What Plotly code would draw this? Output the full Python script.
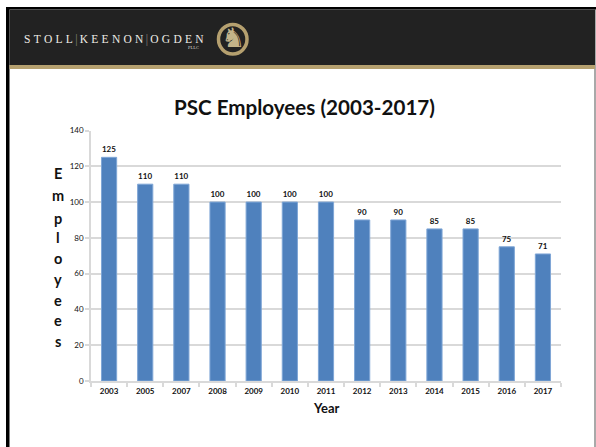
import plotly.graph_objects as go

W, H = 596, 447

years = ["2003", "2005", "2007", "2008", "2009", "2010", "2011",
         "2012", "2013", "2014", "2015", "2016", "2017"]
employees = [125, 110, 110, 100, 100, 100, 100, 90, 90, 85, 85, 75, 71]
y_ticks = [0, 20, 40, 60, 80, 100, 120, 140]

TITLE = "PSC Employees (2003-2017)"
X_TITLE = "Year"
Y_TITLE_LETTERS = list("Employees")

GRID = "#d9d9d9"
BAR = "#4f81bd"
BAR_EDGE = "#7fa6d6"
HEADER = "#222222"
GOLD = "#b5a06f"
TEXT = "#111111"
FONT = "Lato"


def px(x):
    return x / W


def py(y):
    return 1 - y / H


def rect(x0, y0, x1, y1, color, layer="below"):
    return dict(type="rect", xref="paper", yref="paper", x0=px(x0), x1=px(x1),
                y0=py(y1), y1=py(y0), fillcolor=color, line_width=0, layer=layer)


def label(x, y, text, size, color=TEXT, family=FONT, rot=0):
    return dict(xref="paper", yref="paper", x=px(x), y=py(y), text=text,
                showarrow=False, xanchor="center", yanchor="middle", textangle=rot,
                font=dict(family=family, size=size, color=color))


fig = go.Figure(go.Bar(
    x=years, y=employees, width=0.42,
    marker=dict(color=BAR, line=dict(color=BAR_EDGE, width=1)),
    text=[str(v) for v in employees], textposition="outside", cliponaxis=False,
    textfont=dict(family=FONT, size=8, color=TEXT),
    texttemplate="<b>%{text}</b>", hoverinfo="skip",
))

shapes = [
    rect(6, 7, 596, 9.5, "#000000"),       # slide frame, top
    rect(6, 7, 9.5, 447, "#000000"),       # slide frame, left
    rect(594.5, 9, 595.5, 447, "#555555"), # slide frame, right
    rect(9.5, 9.5, 595, 65, HEADER),       # header band
    rect(9.5, 65, 595, 69, GOLD),          # gold rule
    dict(type="circle", xref="paper", yref="paper",
         x0=px(218.5), x1=px(247), y0=py(54), y1=py(24.5),
         fillcolor=HEADER, line=dict(color=GOLD, width=3.5)),
]

sep = "<span style='color:#8a8678'>|</span>"
spaced = lambda word: "\u200a\u2009".join(word)
annotations = [
    label(114, 39.5, f"{spaced('STOLL')}\u2009{sep}\u2009{spaced('KEENON')}\u2009{sep}\u2009{spaced('OGDEN')}",
          11.5, "#eeece6", "Liberation Serif"),
    label(193.5, 48, "PLLC", 4.5, "#d8d5cc", "Liberation Serif"),
    label(233, 38, "\u265e", 27, "#c4b389", "DejaVu Sans"),
    label(304, 107.5, f"<b>{TITLE}</b>", 20.6),
    label(326, 408, f"<b>{X_TITLE}</b>", 13),
]
# Vertical axis title, stacked one letter per row
letter_rows = [173, 196, 218, 237, 258, 279, 300, 320, 341]
for ch, row in zip(Y_TITLE_LETTERS, letter_rows):
    annotations.append(label(58, row, f"<b>{ch}</b>", 14.5))

fig.update_layout(
    width=W, height=H, margin=dict(l=0, r=0, t=0, b=0, pad=0, autoexpand=False),
    paper_bgcolor="white", plot_bgcolor="white", showlegend=False,
    shapes=shapes, annotations=annotations,
    font=dict(family=FONT, color=TEXT),
    xaxis=dict(domain=[px(91), px(561)], type="category", tickson="boundaries",
               ticks="outside", ticklen=4, tickwidth=1.5, tickcolor=GRID,
               showline=True, linecolor=GRID, linewidth=1.5, showgrid=False,
               tickfont=dict(family=FONT, size=8, color=TEXT), ticklabelstandoff=2,
               tickprefix="<b>", ticksuffix="</b>", tickangle=0, fixedrange=True),
    yaxis=dict(domain=[py(381), py(130.5)], range=[0, 140], tickvals=y_ticks,
               ticks="outside", ticklen=4, tickwidth=1.5, tickcolor=GRID,
               showline=True, linecolor=GRID, linewidth=1.5,
               showgrid=True, gridcolor=GRID, gridwidth=1.5, zeroline=False,
               tickfont=dict(family=FONT, size=8, color=TEXT),
               tickprefix="<b>", ticksuffix="</b>", fixedrange=True),
)

fig.write_html("out.html", config=dict(displayModeBar=False))
